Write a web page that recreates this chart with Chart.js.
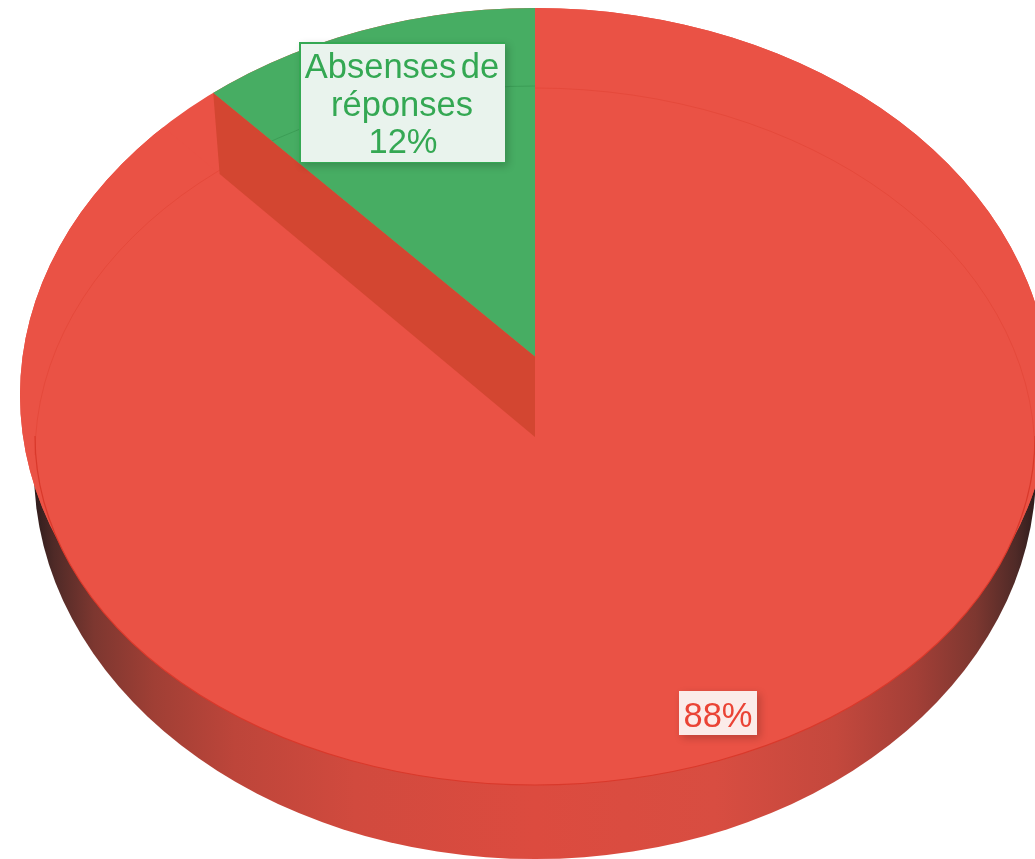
<!DOCTYPE html>
<html><head><meta charset="utf-8">
<style>html,body{margin:0;padding:0;background:#fff;overflow:hidden}canvas{display:block}</style>
<script src="https://cdn.jsdelivr.net/npm/chart.js@4/dist/chart.umd.min.js"></script>
</head><body><canvas id="c" width="1035" height="859"></canvas>
<script>
const categories = ["Réponses", "Absenses de réponses"];
const values = [88, 12];
const sliceColors = ["#EA5245", "#47AD63"];
const labelLines = [[], ["Absenses de", "réponses"]];
const labelColors = ["#EA4335", "#34A853"];

// view projection of the tilted disc
const CX = 535;
const outer = {cx: CX, cy: 395, rx: 515, ry: 387};
const rimTop = {cx: CX, cy: 455, rx: 500, ry: 367};
const rimBottom = {cx: CX, cy: 436, rx: 500, ry: 349};
const wall = {cx: CX, cy: 470, rx: 501, ry: 389};
const cutEnd = {cx: CX, cy: 455, rx: 490, ry: 367};
const apexRed = {x: CX, y: 437};
const apexGreen = {x: CX, y: 356.5};
const tilt = {sxRed: 459, sxGreen: 467, sy: 349, shear: 11};

function ellipsePath(ctx, e) { ctx.moveTo(e.cx + e.rx, e.cy); ctx.ellipse(e.cx, e.cy, e.rx, e.ry, 0, 0, Math.PI * 2); }
function facePath(ctx) {
  ctx.beginPath(); ellipsePath(ctx, outer); ellipsePath(ctx, rimBottom);
}
function rayHit(p, d, e) {
  const ax = d.x / e.rx, ay = d.y / e.ry, bx = (p.x - e.cx) / e.rx, by = (p.y - e.cy) / e.ry;
  const A = ax*ax + ay*ay, B = 2*(ax*bx + ay*by), C = bx*bx + by*by - 1;
  const t = (-B + Math.sqrt(B*B - 4*A*C)) / (2*A);
  return {x: p.x + d.x*t, y: p.y + d.y*t};
}
function drawArc(ctx, arc, apex, sx) {
  const k = 2 / arc.outerRadius;
  ctx.save();
  ctx.translate(apex.x, apex.y);
  ctx.transform(sx*k, tilt.shear*k, 0, tilt.sy*k, 0, 0);
  ctx.translate(-arc.x, -arc.y);
  arc.draw(ctx);
  ctx.restore();
}

const disc3d = {
  id: "disc3d",
  beforeDatasetDraw(chart) {
    const ctx = chart.ctx, arcs = chart.getDatasetMeta(0).data;
    const red = arcs[0], green = arcs[1];
    const th = red.endAngle, ux = Math.cos(th), uy = Math.sin(th);
    const dirOf = sx => ({x: sx*ux, y: tilt.shear*ux + tilt.sy*uy});

    // side wall
    const g = ctx.createLinearGradient(wall.cx - wall.rx, 0, wall.cx + wall.rx, 0);
    [[0,"#2e1c1c"],[0.02,"#4f2a27"],[0.06,"#7d3730"],[0.12,"#a03f35"],[0.2,"#bd453a"],[0.32,"#d14a3e"],[0.5,"#dc4b3f"],
     [0.68,"#d84d41"],[0.8,"#c4483d"],[0.88,"#a33f37"],[0.94,"#7d3730"],[0.98,"#4f2a27"],[1,"#2e1c1c"]]
      .forEach(s => g.addColorStop(s[0], s[1]));
    ctx.save();
    ctx.beginPath(); ellipsePath(ctx, wall); ctx.fillStyle = g; ctx.fill();

    // top face
    facePath(ctx); ctx.fillStyle = sliceColors[0]; ctx.fill();
    ctx.save(); facePath(ctx); ctx.clip();
    drawArc(ctx, red, apexRed, tilt.sxRed);
    ctx.restore();

    // rim line
    ctx.lineWidth = 1;
    ctx.strokeStyle = "rgba(214,52,38,0.3)";
    ctx.beginPath(); ctx.ellipse(rimTop.cx, rimTop.cy, rimTop.rx, rimTop.ry, 0, Math.PI, Math.PI*2); ctx.stroke();
    ctx.lineWidth = 1.2;
    ctx.strokeStyle = "#D9392B";
    ctx.beginPath(); ctx.ellipse(rimBottom.cx, rimBottom.cy, rimBottom.rx, rimBottom.ry, 0, 0, Math.PI); ctx.stroke();

    // cut wall between the two slices
    const a = rayHit(apexGreen, dirOf(tilt.sxGreen), outer);
    const b = rayHit(apexRed, dirOf(tilt.sxRed), cutEnd);
    ctx.beginPath();
    ctx.moveTo(a.x, a.y); ctx.lineTo(apexGreen.x, apexGreen.y); ctx.lineTo(apexRed.x, apexRed.y); ctx.lineTo(b.x, b.y);
    ctx.closePath(); ctx.fillStyle = "#D34631"; ctx.fill();

    // raised slice
    ctx.save(); ctx.beginPath(); ellipsePath(ctx, outer); ctx.clip();
    drawArc(ctx, green, apexGreen, tilt.sxGreen);
    ctx.beginPath();
    ctx.moveTo(apexGreen.x, apexGreen.y); ctx.lineTo(a.x, a.y); ctx.lineTo(a.x, 0); ctx.lineTo(CX, 0); ctx.closePath(); ctx.clip();
    ctx.strokeStyle = "rgba(46,140,72,0.45)"; ctx.lineWidth = 1;
    ctx.beginPath(); ctx.ellipse(rimTop.cx, rimTop.cy - 2, rimTop.rx, rimTop.ry, 0, Math.PI, Math.PI*2); ctx.stroke();
    ctx.restore();
    ctx.restore();
    return false;
  },
  afterDatasetsDraw(chart) {
    const ctx = chart.ctx;
    const box = (x, y, w, h, fill, border) => {
      ctx.save();
      ctx.shadowColor = "rgba(0,0,0,0.2)"; ctx.shadowBlur = 8; ctx.shadowOffsetX = 3; ctx.shadowOffsetY = 3;
      ctx.fillStyle = fill; ctx.fillRect(x, y, w, h);
      ctx.restore();
      if (border) {
        ctx.fillStyle = border;
        ctx.fillRect(x, y, w, 2); ctx.fillRect(x, y, 2, h); ctx.fillRect(x, y + h - 1, w, 1);
      }
    };
    ctx.save();
    ctx.textAlign = "center"; ctx.textBaseline = "alphabetic";
    ctx.font = '34.5px "Liberation Sans", Arial, sans-serif';
    box(299, 42, 206, 121, "#E9F3ED", labelColors[1]);
    ctx.fillStyle = labelColors[1];
    if ("wordSpacing" in ctx) ctx.wordSpacing = "-5px";
    ctx.fillText(labelLines[1][0], 402, 78);
    ctx.wordSpacing = "0px";
    ctx.fillText(labelLines[1][1], 402, 115.5);
    ctx.fillText(values[1] + "%", 403, 153);
    box(679, 691, 78, 44, "#FBEBE9", null);
    ctx.fillStyle = labelColors[0];
    ctx.fillText(values[0] + "%", 718, 727);
    ctx.restore();
  }
};

new Chart(document.getElementById("c"), {
  type: "pie",
  data: {labels: categories, datasets: [{data: values, backgroundColor: sliceColors, borderWidth: 0}]},
  options: {
    responsive: false, animation: false,
    plugins: {legend: {display: false}, tooltip: {enabled: false}, title: {display: false}}
  },
  plugins: [disc3d]
});
</script></body></html>
